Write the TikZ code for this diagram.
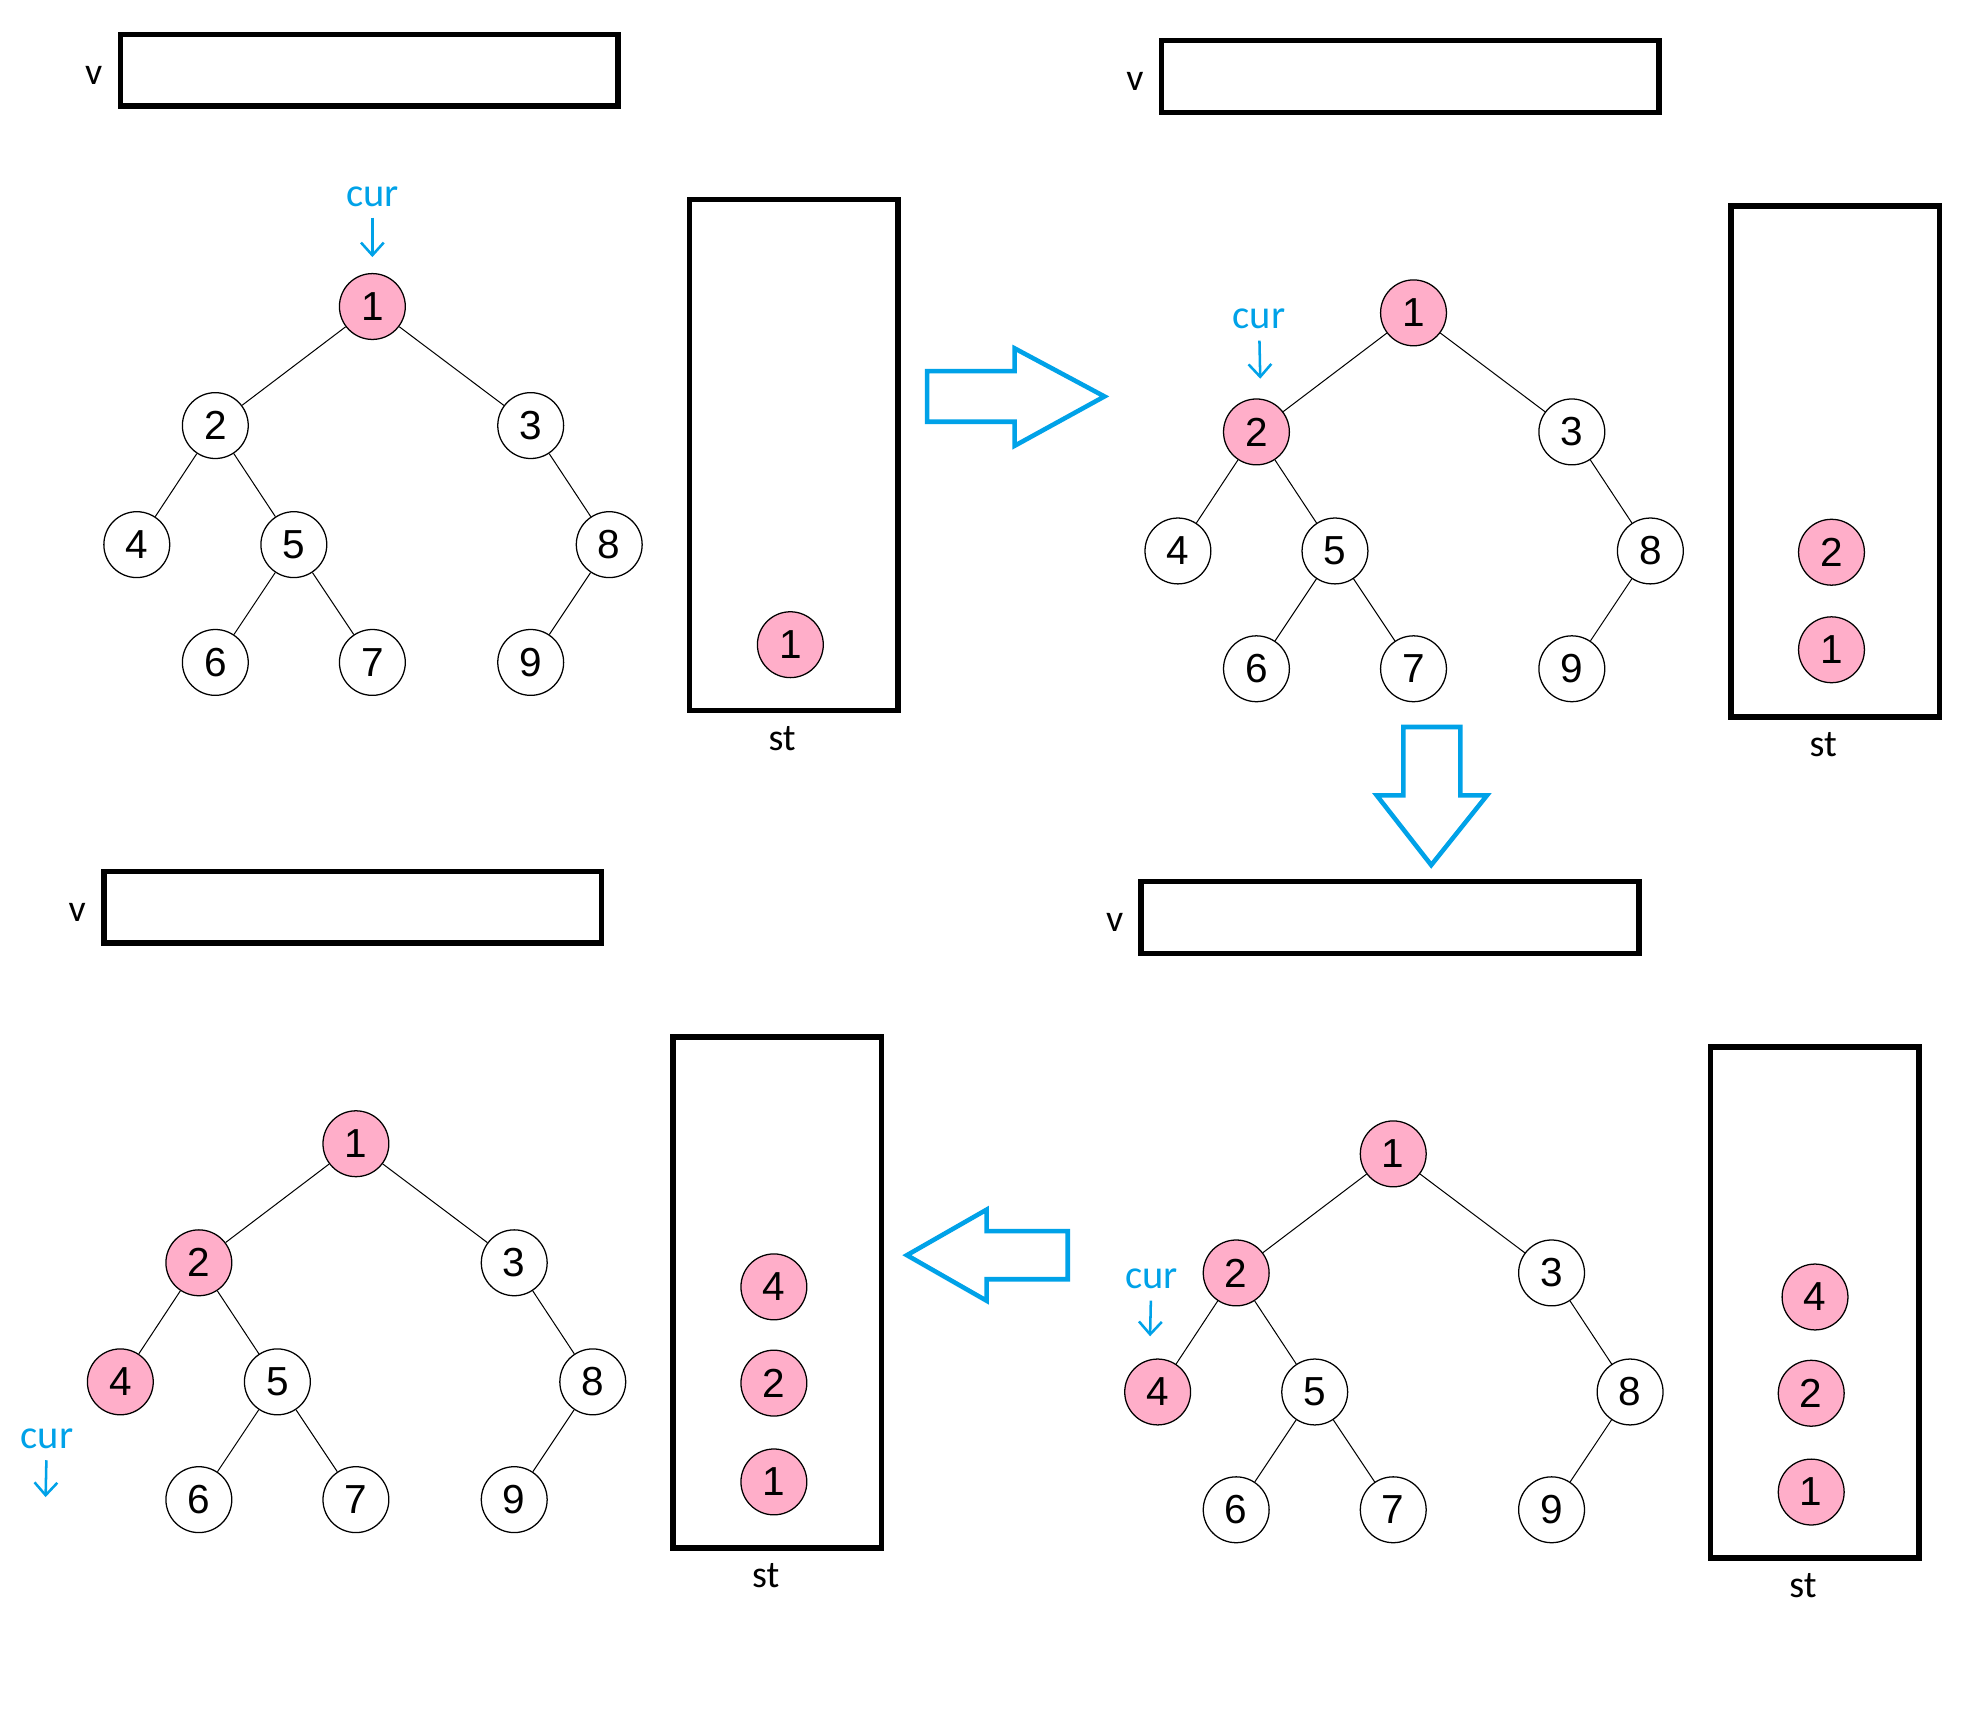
\documentclass[tikz,border=0pt]{standalone}
\usepackage{fontspec}
\setmainfont{Liberation Sans}
\newfontfamily\handfont{Carlito}
\usetikzlibrary{arrows.meta}

\begin{document}
\begin{tikzpicture}[x=0.5pt,y=-0.5pt,
  treenode/.style={circle,draw=black,fill=white,line width=0.5pt,minimum size=26pt,inner sep=0pt,font=\fontsize{16}{16}\selectfont},
  seen/.style={treenode,fill=pinkFill},
  holder/.style={draw=black,line width=2.2pt,inner sep=0pt},
  boxlabel/.style={inner sep=0pt,font=\handfont\fontsize{15}{15}\selectfont},
  curlabel/.style={text=blueLine,inner sep=1pt,outer sep=3.5pt,font=\handfont\fontsize{16}{16}\selectfont},
  curarrow/.style={draw=blueLine,line width=1pt,-{Straight Barb[length=5pt,width=9pt]}},
  bigarrow/.style={draw=blueLine,line width=1.8pt,line join=miter},
  branch/.style={draw=black,line width=0.4pt}]
\definecolor{pinkFill}{RGB}{255,174,201}
\definecolor{blueLine}{RGB}{0,162,232}
\path[use as bounding box,fill=white] (0,0) rectangle (1568,1365);

% step 1: cur at the root
\begin{scope}
\node[holder,minimum width=196.5pt,minimum height=28.3pt] (av) at (291.5,55.4) {};
\node[boxlabel] (avlbl) at (74,59.5) {v};

\node[seen] (a1) at (294,242) {1};
\node[treenode] (a2) at (170,336) {2};
\node[treenode] (a3) at (419,336) {3};
\node[treenode] (a4) at (108,430) {4};
\node[treenode] (a5) at (232,430) {5};
\node[treenode] (a8) at (481,430) {8};
\node[treenode] (a6) at (170,523) {6};
\node[treenode] (a7) at (294,523) {7};
\node[treenode] (a9) at (419,523) {9};
\draw[branch] (a1) -- (a2);
\draw[branch] (a1) -- (a3);
\draw[branch] (a2) -- (a4);
\draw[branch] (a2) -- (a5);
\draw[branch] (a5) -- (a6);
\draw[branch] (a5) -- (a7);
\draw[branch] (a3) -- (a8);
\draw[branch] (a8) -- (a9);

\node[holder,minimum width=82.3pt,minimum height=201.7pt] (ast) at (626.8,359.3) {};
\node[boxlabel] (astlbl) at (617.5,583) {st};
\node[seen] (ast1) at (624,509) {1};

\node[curlabel] (acur) at (294,155) {cur};
\coordinate (acurtip) at (294,203);
\draw[curarrow] (acur) -- (acurtip);
\end{scope}

% step 2: cur moves to 2
\begin{scope}[shift={(822,5)}]
\node[holder,minimum width=196.5pt,minimum height=28.3pt] (bv) at (291.5,55.4) {};
\node[boxlabel] (bvlbl) at (74,59.5) {v};

\node[seen] (b1) at (294,242) {1};
\node[seen] (b2) at (170,336) {2};
\node[treenode] (b3) at (419,336) {3};
\node[treenode] (b4) at (108,430) {4};
\node[treenode] (b5) at (232,430) {5};
\node[treenode] (b8) at (481,430) {8};
\node[treenode] (b6) at (170,523) {6};
\node[treenode] (b7) at (294,523) {7};
\node[treenode] (b9) at (419,523) {9};
\draw[branch] (b1) -- (b2);
\draw[branch] (b1) -- (b3);
\draw[branch] (b2) -- (b4);
\draw[branch] (b2) -- (b5);
\draw[branch] (b5) -- (b6);
\draw[branch] (b5) -- (b7);
\draw[branch] (b3) -- (b8);
\draw[branch] (b8) -- (b9);

\node[holder,minimum width=82.3pt,minimum height=201.7pt] (bst) at (626.8,359.3) {};
\node[boxlabel] (bstlbl) at (617.5,583) {st};
\node[seen] (bst2) at (624,431) {2};
\node[seen] (bst1) at (624,508) {1};

\node[curlabel] (bcur) at (172,247) {cur};
\coordinate (bcurtip) at (173,294);
\draw[curarrow] (bcur) -- (bcurtip);
\end{scope}

% step 3: cur moves to 4
\begin{scope}[shift={(806,669)}]
\node[holder,minimum width=196.5pt,minimum height=28.3pt] (cv) at (291.5,55.4) {};
\node[boxlabel] (cvlbl) at (74,59.5) {v};

\node[seen] (c1) at (294,242) {1};
\node[seen] (c2) at (170,336) {2};
\node[treenode] (c3) at (419,336) {3};
\node[seen] (c4) at (108,430) {4};
\node[treenode] (c5) at (232,430) {5};
\node[treenode] (c8) at (481,430) {8};
\node[treenode] (c6) at (170,523) {6};
\node[treenode] (c7) at (294,523) {7};
\node[treenode] (c9) at (419,523) {9};
\draw[branch] (c1) -- (c2);
\draw[branch] (c1) -- (c3);
\draw[branch] (c2) -- (c4);
\draw[branch] (c2) -- (c5);
\draw[branch] (c5) -- (c6);
\draw[branch] (c5) -- (c7);
\draw[branch] (c3) -- (c8);
\draw[branch] (c8) -- (c9);

\node[holder,minimum width=82.3pt,minimum height=201.7pt] (cst) at (626.8,359.3) {};
\node[boxlabel] (cstlbl) at (617.5,583) {st};
\node[seen] (cst4) at (627,355) {4};
\node[seen] (cst2) at (624,431) {2};
\node[seen] (cst1) at (624,509) {1};

\node[curlabel] (ccur) at (103,341) {cur};
\coordinate (ccurtip) at (102,386);
\draw[curarrow] (ccur) -- (ccurtip);
\end{scope}

% step 4: cur moves past 4
\begin{scope}[shift={(-13,661)}]
\node[holder,minimum width=196.5pt,minimum height=28.3pt] (dv) at (291.5,55.4) {};
\node[boxlabel] (dvlbl) at (74,59.5) {v};

\node[seen] (d1) at (294,242) {1};
\node[seen] (d2) at (170,336) {2};
\node[treenode] (d3) at (419,336) {3};
\node[seen] (d4) at (108,430) {4};
\node[treenode] (d5) at (232,430) {5};
\node[treenode] (d8) at (481,430) {8};
\node[treenode] (d6) at (170,523) {6};
\node[treenode] (d7) at (294,523) {7};
\node[treenode] (d9) at (419,523) {9};
\draw[branch] (d1) -- (d2);
\draw[branch] (d1) -- (d3);
\draw[branch] (d2) -- (d4);
\draw[branch] (d2) -- (d5);
\draw[branch] (d5) -- (d6);
\draw[branch] (d5) -- (d7);
\draw[branch] (d3) -- (d8);
\draw[branch] (d8) -- (d9);

\node[holder,minimum width=82.3pt,minimum height=201.7pt] (dst) at (626.8,359.3) {};
\node[boxlabel] (dstlbl) at (617.5,583) {st};
\node[seen] (dst4) at (624,355) {4};
\node[seen] (dst2) at (624,431) {2};
\node[seen] (dst1) at (624,509) {1};

\node[curlabel] (dcur) at (50,475) {cur};
\coordinate (dcurtip) at (49,521);
\draw[curarrow] (dcur) -- (dcurtip);
\end{scope}

% big arrows between the steps
\path[bigarrow] (732,293) -- (801,293) -- (801,275) -- (872,313) --
	(801,352) -- (801,333) -- (732,333) -- cycle;
\path[bigarrow] (1108,574) -- (1153,574) -- (1153,628) -- (1174,628) --
	(1130,683) -- (1087,628) -- (1108,628) -- cycle;
\path[bigarrow] (843,972) -- (779,972) -- (779,955) -- (716,991) --
	(779,1027) -- (779,1010) -- (843,1010) -- cycle;
\end{tikzpicture}
\end{document}
